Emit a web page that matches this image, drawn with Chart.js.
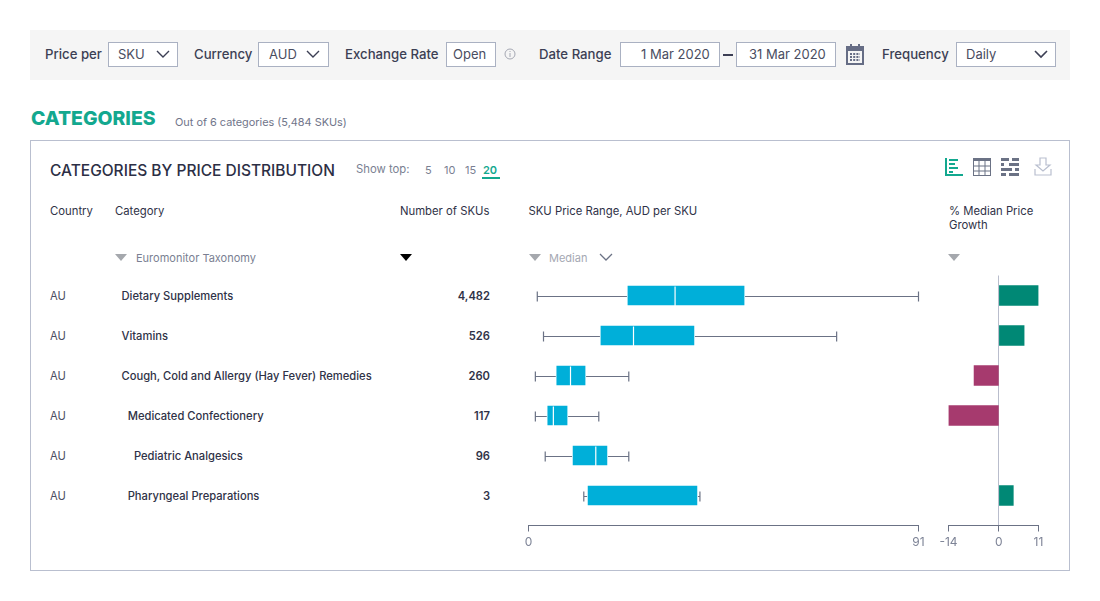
<!DOCTYPE html>
<html>
<head>
<meta charset="utf-8">
<title>Categories by price distribution</title>
<script src="https://cdn.jsdelivr.net/npm/chart.js@4"></script>
<style>
  html, body { margin: 0; padding: 0; background: #fff; }
  body { position: relative; width: 1100px; height: 601px; overflow: hidden; font-family: Inter, sans-serif; color: #2f3247; }
  .t { position: absolute; white-space: nowrap; transform: translateY(-50%); line-height: 1; }
  .bar { position: absolute; left: 30px; top: 30px; width: 1040px; height: 50px; background: #f5f5f5; }
  .panel { position: absolute; left: 30px; top: 140px; width: 1038px; height: 429px; border: 1px solid #b9bfcf; }
  .box { position: absolute; top: 42px; height: 23px; border: 1px solid #aab1c2; background: #fff; box-sizing: content-box; }
  .lab { font-size: 13.2px; font-weight: 500; color: #3c3f54; margin-top: 1px; }
  .val { font-size: 13px; color: #4a4d61; }
  .head { font-size: 11.3px; color: #2f3247; }
  .grey { font-size: 11px; color: #7a7f92; }
  .row { font-size: 11.2px; color: #2f3247; }
  canvas { position: absolute; }
  svg { position: absolute; overflow: visible; }
</style>
</head>
<body>
<div class="bar"></div>
<div class="t lab" style="left:45px;top:54px">Price per</div>
<div class="box" style="left:108px;width:68px"></div>
<div class="t val" style="left:118px;top:54px">SKU</div>
<svg style="left:156px;top:50px" width="14" height="8"><path d="M1 1L7 7L13 1" fill="none" stroke="#3c3f54" stroke-width="1.4"/></svg>
<div class="t lab" style="left:194px;top:54px">Currency</div>
<div class="box" style="left:258px;width:69px"></div>
<div class="t val" style="left:269px;top:54px">AUD</div>
<svg style="left:306px;top:50px" width="14" height="8"><path d="M1 1L7 7L13 1" fill="none" stroke="#3c3f54" stroke-width="1.4"/></svg>
<div class="t lab" style="left:345px;top:54px">Exchange Rate</div>
<div class="box" style="left:446px;width:48px"></div>
<div class="t val" style="left:453px;top:54px">Open</div>
<svg style="left:504px;top:48px" width="12" height="12"><circle cx="6" cy="6" r="5" fill="none" stroke="#a5a8b3"/><path d="M6 5V9M6 3V4" stroke="#a5a8b3"/></svg>
<div class="t lab" style="left:539px;top:54px">Date Range</div>
<div class="box" style="left:620px;width:98px"></div>
<div class="t val" style="left:641px;top:54px">1 Mar 2020</div>
<svg style="left:723px;top:54px" width="10" height="2"><rect width="10" height="2" fill="#3c3f54"/></svg>
<div class="box" style="left:736px;width:98px"></div>
<div class="t val" style="left:749px;top:54px">31 Mar 2020</div>
<svg style="left:846px;top:44px" width="18" height="21"><rect x="1" y="3" width="16" height="17" fill="none" stroke="#666d85" stroke-width="2"/><rect x="1" y="3" width="16" height="4" fill="#666d85"/><rect x="4" y="0" width="2" height="4" fill="#666d85"/><rect x="12" y="0" width="2" height="4" fill="#666d85"/><path d="M4 10H14M4 13H14M4 16H14" stroke="#666d85" stroke-dasharray="2 1.2" stroke-width="2"/></svg>
<div class="t lab" style="left:882px;top:54px">Frequency</div>
<div class="box" style="left:956px;width:98px"></div>
<div class="t val" style="left:966px;top:54px">Daily</div>
<svg style="left:1034px;top:50px" width="14" height="8"><path d="M1 1L7 7L13 1" fill="none" stroke="#3c3f54" stroke-width="1.6"/></svg>

<div class="t" style="left:31px;top:119px;font-size:19.4px;font-weight:800;color:#13a88f">CATEGORIES</div>
<div class="t" style="left:175px;top:122px;font-size:10.9px;color:#70758a">Out of 6 categories (5,484 SKUs)</div>

<div class="panel"></div>
<div class="t" style="left:50px;top:171px;font-size:15.5px;font-weight:500;color:#2c2f45">CATEGORIES BY PRICE DISTRIBUTION</div>
<div class="t grey" style="left:356px;top:170px;font-size:11.3px">Show top:</div>
<div id="showTop"></div>
<svg style="left:482px;top:177px" width="18" height="2"><rect width="18" height="2" fill="#13a88f"/></svg>

<svg style="left:945px;top:158px" width="18" height="18"><path d="M1 0V17H18" fill="none" stroke="#13a88f" stroke-width="2"/><path d="M4 2H13M4 6H10M4 10H13M4 14H8" stroke="#13a88f" stroke-width="2"/></svg>
<svg style="left:973px;top:158px" width="18" height="18"><rect x=".5" y=".5" width="17" height="17" fill="none" stroke="#6b7285"/><rect width="18" height="3" fill="#6b7285"/><path d="M6 1V18M12 1V18M1 8H17M1 13H17" stroke="#6b7285"/></svg>
<svg style="left:1001px;top:158px" width="18" height="18"><path d="M0 1.5H8M11 1.5H18M0 6.5H3M8 6.5H18M0 11.5H11M14 11.5H18M0 16.5H5M8 16.5H18" stroke="#6b7285" stroke-width="3"/></svg>
<svg style="left:1034px;top:158px" width="18" height="18"><path d="M6 0H12V7H16L9 13L2 7H6Z M1 11V17H17V11" fill="none" stroke="#b9bfcf" stroke-width="1.2"/></svg>

<div class="t head" style="left:50px;top:212px">Country</div>
<div class="t head" style="left:115px;top:212px">Category</div>
<div class="t head" style="left:400px;top:212px">Number of SKUs</div>
<div class="t head" style="left:528.5px;top:212px">SKU Price Range, AUD per SKU</div>
<div class="t head" style="left:949px;top:212px">% Median Price</div>
<div class="t head" style="left:949px;top:226px">Growth</div>

<svg style="left:115px;top:254px" width="12" height="7"><path d="M0 0H12L6 7Z" fill="#a5a8ad"/></svg>
<div class="t grey" style="left:136px;top:258px">Euromonitor Taxonomy</div>
<svg style="left:400px;top:254px" width="12" height="7"><path d="M0 0H12L6 7Z" fill="#000"/></svg>
<svg style="left:529px;top:254px" width="12" height="7"><path d="M0 0H12L6 7Z" fill="#a5a8ad"/></svg>
<div class="t grey" style="left:549px;top:258px;color:#a5a8b3">Median</div>
<svg style="left:599px;top:253px" width="14" height="8"><path d="M1 1L7 7L13 1" fill="none" stroke="#6b7285" stroke-width="1.3"/></svg>
<svg style="left:948px;top:254px" width="12" height="7"><path d="M0 0H12L6 7Z" fill="#a5a8ad"/></svg>

<div id="rows"></div>
<canvas id="rangeChart" width="410" height="286" style="left:520px;top:270px"></canvas>
<canvas id="growthChart" width="135" height="286" style="left:930px;top:270px"></canvas>

<script>
const countries = ['AU', 'AU', 'AU', 'AU', 'AU', 'AU'];
const categories = ['Dietary Supplements', 'Vitamins', 'Cough, Cold and Allergy (Hay Fever) Remedies', 'Medicated Confectionery', 'Pediatric Analgesics', 'Pharyngeal Preparations'];
const categoryDepth = [0, 0, 0, 1, 2, 1];
const skuCounts = ['4,482', '526', '260', '117', '96', '3'];
const priceLow = [2.05, 3.5, 1.6, 1.6, 3.9, 12.9];
const priceQ1 = [23.2, 16.9, 6.6, 4.5, 10.4, 13.9];
const priceMedian = [34.2, 24.5, 9.8, 5.8, 15.7, null];
const priceQ3 = [50.3, 38.6, 13.2, 9.0, 18.3, 39.3];
const priceHigh = [91, 71.9, 23.4, 16.4, 23.4, 40];
const growth = [11, 7, -6.9, -14, null, 4];
const priceTicks = [0, 91];
const growthTicks = [-14, 0, 11];
const showTopOptions = ['5', '10', '15', '20'];

const rowIndex = categories.map((c, i) => i);
const rowsEl = document.getElementById('rows');
rowIndex.forEach(i => {
    const y = 297 + i * 40;
    rowsEl.innerHTML +=
        `<div class="t row" style="left:50px;top:${y}px;color:#4a4d61">${countries[i]}</div>` +
        `<div class="t row" style="left:${121.5 + categoryDepth[i] * 6.2}px;top:${y}px;font-weight:500">${categories[i]}</div>` +
        `<div class="t row" style="right:610px;top:${y}px;font-weight:600">${skuCounts[i]}</div>`;
});
const showTopX = [425, 444, 465, 483];
document.getElementById('showTop').innerHTML = showTopOptions.map((label, i) =>
    `<div class="t grey" style="left:${showTopX[i]}px;top:170px;${i === 3 ? 'color:#13a88f;font-weight:600' : ''}">${label}</div>`).join('');

const boxPlotPlugin = {
    id: 'boxPlot',
    afterDatasetsDraw(chart) {
        const ctx = chart.ctx;
        const x = chart.scales.x;
        const y = chart.scales.y;
        ctx.save();
        ctx.lineWidth = 1.2;
        rowIndex.forEach(i => {
            const py = Math.round(y.getPixelForValue(i)) + 0.5;
            const low = x.getPixelForValue(priceLow[i]);
            const q1 = x.getPixelForValue(priceQ1[i]);
            const q3 = x.getPixelForValue(priceQ3[i]);
            const high = x.getPixelForValue(priceHigh[i]);
            ctx.strokeStyle = '#6b7285';
            ctx.beginPath();
            ctx.moveTo(low, py);
            ctx.lineTo(q1 - 1, py);
            ctx.moveTo(q3 + 1, py);
            ctx.lineTo(high, py);
            ctx.moveTo(low, py - 5);
            ctx.lineTo(low, py + 5);
            ctx.moveTo(high, py - 5);
            ctx.lineTo(high, py + 5);
            ctx.stroke();
            if (priceMedian[i] !== null) {
                const mid = x.getPixelForValue(priceMedian[i]);
                ctx.strokeStyle = '#fff';
                ctx.beginPath();
                ctx.moveTo(mid, py - 10);
                ctx.lineTo(mid, py + 10);
                ctx.stroke();
            }
        });
        ctx.restore();
    }
};

function rowScale() {
    return { type: 'linear', display: false, reverse: true, min: -0.5, max: 5.75, offset: false };
}

function valueScale(min, max, tickValues, extraGrid) {
    return {
        type: 'linear',
        min: min,
        max: max,
        afterBuildTicks: scale => { scale.ticks = tickValues.map(v => ({ value: v })); },
        afterFit: scale => { scale.height = 30.5; },
        border: { display: true, color: '#6b7285', width: 1 },
        grid: Object.assign({ drawOnChartArea: false, drawTicks: true, tickLength: 6, tickColor: '#6b7285', offset: false }, extraGrid),
        ticks: { color: '#7d8396', font: { family: 'Inter', size: 12 }, padding: 4, maxRotation: 0, autoSkip: false }
    };
}

new Chart(document.getElementById('rangeChart'), {
    type: 'bar',
    data: {
        datasets: [{
            data: rowIndex.map(i => ({ x: [priceQ1[i], priceQ3[i]], y: i })),
            backgroundColor: '#00afd9',
            barThickness: 19
        }]
    },
    options: {
        indexAxis: 'y',
        responsive: false,
        animation: false,
        layout: { padding: { left: 8.5, right: 11.5, top: 5.5, bottom: 0 } },
        plugins: { legend: { display: false }, tooltip: { enabled: false } },
        scales: { x: valueScale(0, 91, priceTicks), y: rowScale() }
    },
    plugins: [boxPlotPlugin]
});

new Chart(document.getElementById('growthChart'), {
    type: 'bar',
    data: {
        datasets: [{
            data: rowIndex.map(i => ({ x: growth[i], y: i })),
            backgroundColor: growth.map(v => v < 0 ? '#a63a6e' : '#008875'),
            barThickness: 20
        }]
    },
    options: {
        indexAxis: 'y',
        responsive: false,
        animation: false,
        layout: { padding: { left: 18.5, right: 26.5, top: 5.5, bottom: 0 } },
        plugins: { legend: { display: false }, tooltip: { enabled: false } },
        scales: {
            x: valueScale(-14, 11, growthTicks, {
                drawOnChartArea: true,
                color: c => c.tick && c.tick.value === 0 ? '#b9bdcc' : 'transparent'
            }),
            y: rowScale()
        }
    }
});
</script>
</body>
</html>
